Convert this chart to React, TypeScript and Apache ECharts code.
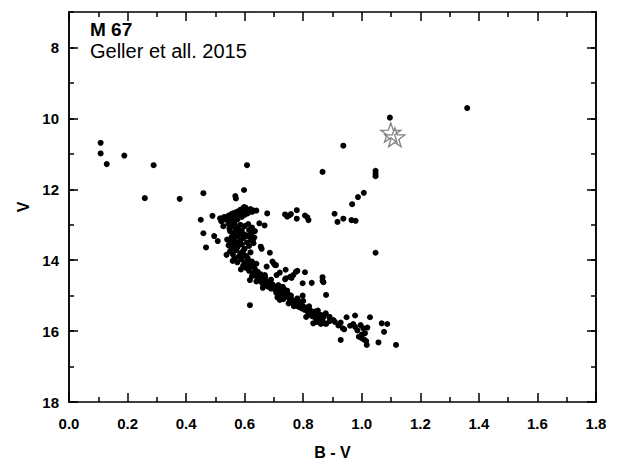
import React, { useEffect, useRef } from "react";
import * as echarts from "echarts";

// [B-V, V]
const blueStragglers: number[][] = [
  [0.108, 10.69], [0.108, 10.99], [0.129, 11.29], [0.189, 11.05], [0.289, 11.32], [0.259, 12.25],
  [0.378, 12.27], [0.459, 12.11], [0.608, 11.32], [0.598, 12.02], [0.568, 12.19], [0.570, 12.26],
];

const giants: number[][] = [
  [1.36, 9.71], [1.096, 9.98], [0.937, 10.77], [0.866, 11.51], [1.047, 11.48], [1.047, 11.56],
  [1.047, 11.63], [1.007, 12.1], [0.987, 12.22], [0.967, 12.42], [0.907, 12.69], [0.917, 12.92],
  [0.937, 12.83], [0.965, 12.87], [0.979, 12.89], [1.047, 13.79],
];

const subgiants: number[][] = [
  [0.738, 12.71], [0.745, 12.77], [0.752, 12.74], [0.758, 12.7], [0.778, 12.59], [0.778, 12.83],
  [0.806, 12.74], [0.814, 12.79], [0.818, 12.87], [0.677, 12.68], [0.65, 12.96], [0.668, 13.02],
  [0.64, 12.6], [0.45, 12.86], [0.49, 12.75], [0.516, 12.82], [0.52, 12.9], [0.527, 13.04],
  [0.53, 12.78], [0.535, 12.86], [0.54, 12.8], [0.545, 12.74], [0.548, 12.88], [0.55, 12.76],
  [0.555, 12.7], [0.558, 12.82], [0.56, 12.68], [0.565, 12.76], [0.568, 12.72], [0.57, 12.65],
  [0.572, 12.8], [0.575, 12.7], [0.578, 12.62], [0.58, 12.74], [0.583, 12.66], [0.585, 12.58],
  [0.588, 12.7], [0.59, 12.62], [0.593, 12.55], [0.595, 12.67], [0.598, 12.5], [0.6, 12.6],
  [0.603, 12.52], [0.605, 12.64], [0.608, 12.57], [0.61, 12.68], [0.615, 12.6], [0.62, 12.56],
  [0.625, 12.64], [0.63, 12.6], [0.6, 12.72], [0.59, 12.78], [0.575, 12.85], [0.56, 12.9],
];

const turnoff: number[][] = [
  [0.459, 13.24], [0.468, 13.64], [0.496, 13.32], [0.508, 13.46], [0.538, 13.85], [0.559, 14.02],
  [0.545, 12.98], [0.555, 13.05], [0.565, 12.97], [0.575, 13.08], [0.585, 13.0], [0.6, 13.04],
  [0.612, 12.98], [0.625, 13.08], [0.55, 13.18], [0.56, 13.25], [0.57, 13.14], [0.58, 13.22],
  [0.59, 13.16], [0.6, 13.28], [0.615, 13.15], [0.625, 13.22], [0.635, 13.18], [0.54, 13.42],
  [0.555, 13.35], [0.565, 13.46], [0.575, 13.32], [0.585, 13.44], [0.595, 13.38], [0.61, 13.32],
  [0.622, 13.42], [0.633, 13.36], [0.545, 13.58], [0.555, 13.66], [0.565, 13.55], [0.575, 13.64],
  [0.59, 13.56], [0.6, 13.68], [0.615, 13.6], [0.63, 13.52], [0.55, 13.75], [0.56, 13.84],
  [0.57, 13.72], [0.585, 13.8], [0.595, 13.74], [0.605, 13.88], [0.62, 13.78], [0.565, 13.95],
  [0.575, 14.06], [0.59, 13.98], [0.6, 14.08], [0.61, 13.94], [0.625, 14.04], [0.587, 14.26],
  [0.595, 14.15], [0.605, 14.2], [0.615, 14.12], [0.63, 14.18], [0.64, 14.1],
  [0.548, 13.1], [0.562, 13.4], [0.578, 13.5], [0.592, 13.28], [0.608, 13.5], [0.618, 13.3],
  [0.628, 13.45], [0.58, 13.9], [0.596, 13.86], [0.612, 14.0], [0.57, 13.3], [0.552, 13.5],
];

const mainSequence: number[][] = [
  [0.605, 14.22], [0.615, 14.3], [0.62, 14.18], [0.628, 14.38], [0.635, 14.25], [0.64, 14.45],
  [0.645, 14.33], [0.65, 14.5], [0.655, 14.4], [0.625, 14.45], [0.652, 14.58], [0.66, 14.65],
  [0.665, 14.52], [0.67, 14.7], [0.675, 14.6], [0.68, 14.75], [0.685, 14.62], [0.69, 14.8],
  [0.695, 14.68], [0.7, 14.74], [0.705, 14.85], [0.662, 14.78], [0.708, 14.92], [0.712, 15.05],
  [0.718, 14.88], [0.722, 15.0], [0.728, 14.95], [0.732, 15.1], [0.738, 14.9], [0.742, 15.02],
  [0.748, 14.96], [0.752, 15.08], [0.758, 15.0], [0.762, 15.12], [0.715, 14.82], [0.735, 14.82],
  [0.745, 14.86], [0.755, 15.18], [0.765, 15.22], [0.77, 15.15], [0.775, 15.28], [0.78, 15.2],
  [0.785, 15.32], [0.79, 15.25], [0.795, 15.36], [0.8, 15.3], [0.805, 15.4], [0.81, 15.34],
  [0.768, 15.3], [0.789, 15.17], [0.815, 15.45], [0.82, 15.52], [0.825, 15.42], [0.83, 15.58],
  [0.835, 15.5], [0.84, 15.62], [0.845, 15.48], [0.85, 15.56], [0.855, 15.65], [0.86, 15.54],
  [0.865, 15.7], [0.87, 15.6], [0.877, 15.5], [0.84, 15.45], [0.834, 15.78], [0.846, 15.74],
  [0.874, 15.78], [0.878, 15.8], [0.89, 15.72], [0.903, 15.69], [0.908, 15.74], [0.928, 15.76],
  [0.935, 15.92], [0.948, 15.61], [0.977, 15.56], [0.971, 15.8], [0.977, 15.88], [0.996, 15.83],
  [1.005, 15.92], [1.019, 15.9], [1.028, 15.61], [1.068, 15.78], [1.087, 15.8], [1.076, 16.02],
  [0.92, 15.84], [0.94, 15.95], [0.96, 15.85], [0.985, 15.98], [0.928, 16.25], [0.99, 16.16],
  [1.0, 16.2], [1.008, 16.24], [1.015, 16.28], [1.011, 16.06], [1.017, 16.39], [1.057, 16.32],
  [1.117, 16.39], [1.0, 16.1],
  [0.64, 14.6], [0.67, 14.48], [0.69, 14.55], [0.715, 14.7], [0.73, 14.75], [0.72, 15.12],
  [0.75, 15.22], [0.78, 15.08], [0.8, 15.15], [0.82, 15.3], [0.81, 15.6], [0.85, 15.42],
  [0.86, 15.8], [0.89, 15.6],
];

const binarySequence: number[][] = [
  [0.655, 13.62], [0.658, 13.68], [0.686, 13.79], [0.695, 14.04], [0.7, 14.1], [0.704, 14.14],
  [0.74, 14.27], [0.741, 14.51], [0.738, 14.54], [0.755, 14.47], [0.766, 14.42], [0.775, 14.33],
  [0.78, 14.3], [0.806, 14.34], [0.798, 14.65], [0.829, 14.64], [0.866, 14.48], [0.866, 14.58],
  [0.869, 14.62], [0.878, 14.98], [0.798, 15.0], [0.709, 14.42], [0.707, 14.14], [0.675, 14.18],
  [0.669, 14.42], [0.618, 14.56], [0.618, 15.27], [0.76, 14.5], [0.72, 14.35],
];

// highlighted star (drawn twice, slightly offset)
const starPoints: number[][] = [
  [1.099, 10.4],
  [1.113, 10.53],
];

const xTicks = [0, 0.2, 0.4, 0.6, 0.8, 1.0, 1.2, 1.4, 1.6, 1.8];
const yMajorTicks = [8, 10, 12, 14, 16, 18];

const FONT = "'Liberation Sans', Arial, sans-serif";
const STAR_PATH =
  "path://M50 0 L61.76 33.82 L97.55 34.55 L69.02 56.18 L79.39 90.45 L50 70 L20.61 90.45 L30.98 56.18 L2.45 34.55 L38.24 33.82 Z";

export default function App() {
  const ref = useRef<HTMLDivElement>(null);

  useEffect(() => {
    if (!ref.current) return;
    const chart = echarts.init(ref.current, null, { renderer: "svg" });
    const lineStyle = { color: "#000", width: 1.5 };
    const labelStyle = { color: "#000", fontWeight: "bold" as const, fontSize: 15, fontFamily: FONT };

    const xBase = (pos: "bottom" | "top", showLabel: boolean) => ({
      type: "value" as const,
      position: pos,
      min: xTicks[0],
      max: xTicks[xTicks.length - 1],
      interval: 0.2,
      axisLine: { show: true, onZero: false, lineStyle },
      axisTick: { show: true, inside: true, length: 9, lineStyle },
      minorTick: { show: true, splitNumber: 2, length: 5, lineStyle },
      axisLabel: {
        show: showLabel,
        margin: 14,
        formatter: (v: number) => v.toFixed(1),
        ...labelStyle,
      },
      splitLine: { show: false },
    });

    const yMajor = (pos: "left" | "right", showLabel: boolean) => ({
      type: "value" as const,
      position: pos,
      inverse: true,
      min: 7,
      max: 18,
      interval: 1,
      axisLine: { show: true, onZero: false, lineStyle },
      axisTick: { show: true, inside: true, length: 9, lineStyle, customValues: yMajorTicks },
      axisLabel: { show: showLabel, margin: 10, customValues: yMajorTicks, ...labelStyle },
      splitLine: { show: false },
    });
    const yMinor = (pos: "left" | "right") => ({
      type: "value" as const,
      position: pos,
      inverse: true,
      min: 7,
      max: 18,
      interval: 1,
      axisLine: { show: true, onZero: false, lineStyle },
      axisTick: { show: true, inside: true, length: 5, lineStyle },
      axisLabel: { show: false },
      splitLine: { show: false },
    });

    const members = [
      ...blueStragglers,
      ...giants,
      ...subgiants,
      ...turnoff,
      ...mainSequence,
      ...binarySequence,
    ];

    chart.setOption({
      animation: false,
      backgroundColor: "#fff",
      grid: {
        left: 69,
        right: 21,
        top: 12,
        bottom: 57,
        containLabel: false,
        outerBoundsMode: "none",
      },
      xAxis: [
        {
          ...xBase("bottom", true),
          name: "B - V",
          nameLocation: "middle",
          nameGap: 42,
          nameTextStyle: { color: "#000", fontWeight: "bold", fontSize: 16, fontFamily: FONT },
        },
        xBase("top", false),
      ],
      yAxis: [
        {
          ...yMajor("left", true),
          name: "V",
          nameLocation: "middle",
          nameRotate: 90,
          nameGap: 38,
          nameTextStyle: { color: "#000", fontWeight: "bold", fontSize: 16, fontFamily: FONT },
        },
        yMinor("left"),
        yMajor("right", false),
        yMinor("right"),
      ],
      graphic: [
        {
          type: "text",
          left: 90,
          top: 20,
          style: { text: "M 67", fill: "#000", font: `bold 19px ${FONT}` },
        },
        {
          type: "text",
          left: 90,
          top: 41,
          style: { text: "Geller et all. 2015", fill: "#000", font: `20px ${FONT}` },
        },
      ],
      series: [
        {
          type: "scatter",
          xAxisIndex: 0,
          yAxisIndex: 0,
          data: members,
          symbol: "circle",
          symbolSize: 6,
          itemStyle: { color: "#000", opacity: 1 },
        },
        {
          type: "scatter",
          xAxisIndex: 0,
          yAxisIndex: 0,
          data: starPoints,
          symbol: STAR_PATH,
          symbolSize: 20,
          symbolKeepAspect: true,
          itemStyle: { color: "rgba(0,0,0,0)", borderColor: "#808080", borderWidth: 1.3, opacity: 1 },
          z: 3,
        },
      ],
    });
    return () => chart.dispose();
  }, []);

  return (
    <div
      ref={ref}
      style={{ position: "fixed", left: 0, top: 0, width: 617, height: 459, background: "#fff" }}
    />
  );
}
